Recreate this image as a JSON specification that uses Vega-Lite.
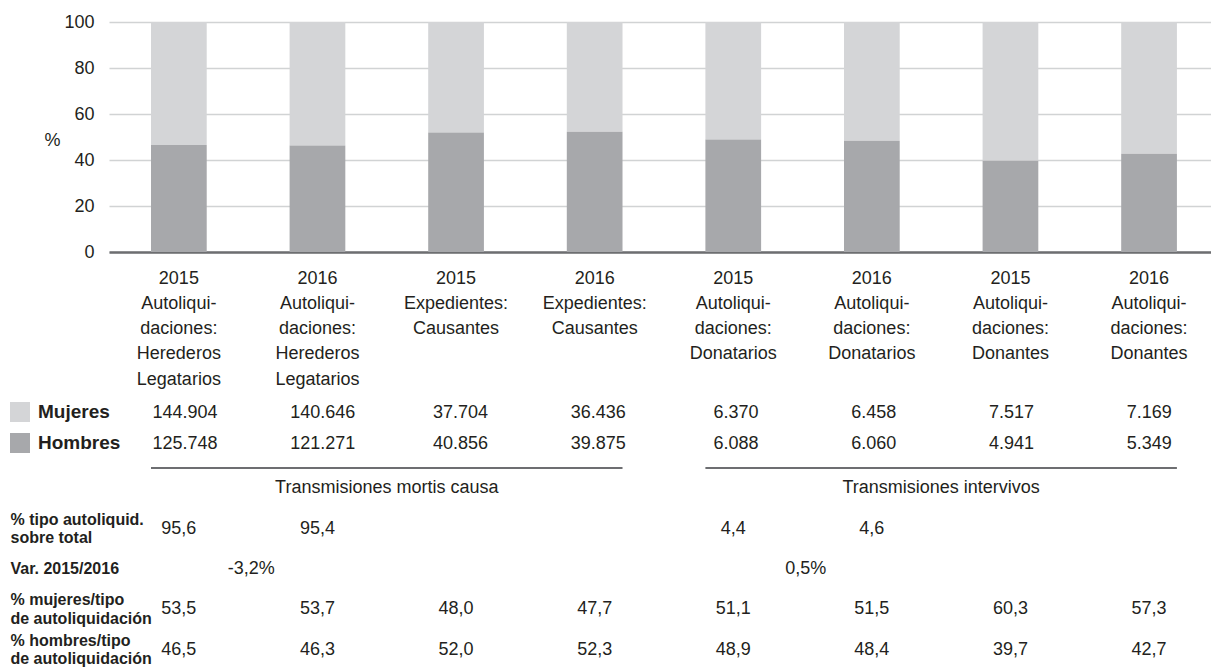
{
  "$schema": "https://vega.github.io/schema/vega-lite/v6.json",
  "padding": {"left": 10, "top": 13, "right": 0, "bottom": 0},
  "spacing": 8,
  "config": {
    "view": {"stroke": null},
    "font": "Liberation Sans",
    "locale": {"number": {"decimal": ",", "thousands": ".", "grouping": [3], "currency": ["", " €"], "minus": "-", "percent": "%"}},
    "axis": {"labelFont": "Liberation Sans", "titleFont": "Liberation Sans", "labelColor": "#231f20", "titleColor": "#231f20"},
    "legend": {"labelFont": "Liberation Sans"},
    "text": {"font": "Liberation Sans", "fontSize": 18, "color": "#231f20"}
  },
  "datasets": {
    "sexo": [
      {"cat": "2015|Autoliqui-|daciones:|Herederos|Legatarios", "sexo": "Mujeres", "n": 144904, "pct": 53.5},
      {"cat": "2015|Autoliqui-|daciones:|Herederos|Legatarios", "sexo": "Hombres", "n": 125748, "pct": 46.5},
      {"cat": "2016|Autoliqui-|daciones:|Herederos|Legatarios", "sexo": "Mujeres", "n": 140646, "pct": 53.7},
      {"cat": "2016|Autoliqui-|daciones:|Herederos|Legatarios", "sexo": "Hombres", "n": 121271, "pct": 46.3},
      {"cat": "2015|Expedientes:|Causantes", "sexo": "Mujeres", "n": 37704, "pct": 48.0},
      {"cat": "2015|Expedientes:|Causantes", "sexo": "Hombres", "n": 40856, "pct": 52.0},
      {"cat": "2016|Expedientes:|Causantes", "sexo": "Mujeres", "n": 36436, "pct": 47.7},
      {"cat": "2016|Expedientes:|Causantes", "sexo": "Hombres", "n": 39875, "pct": 52.3},
      {"cat": "2015|Autoliqui-|daciones:|Donatarios", "sexo": "Mujeres", "n": 6370, "pct": 51.1},
      {"cat": "2015|Autoliqui-|daciones:|Donatarios", "sexo": "Hombres", "n": 6088, "pct": 48.9},
      {"cat": "2016|Autoliqui-|daciones:|Donatarios", "sexo": "Mujeres", "n": 6458, "pct": 51.6},
      {"cat": "2016|Autoliqui-|daciones:|Donatarios", "sexo": "Hombres", "n": 6060, "pct": 48.4},
      {"cat": "2015|Autoliqui-|daciones:|Donantes", "sexo": "Mujeres", "n": 7517, "pct": 60.3},
      {"cat": "2015|Autoliqui-|daciones:|Donantes", "sexo": "Hombres", "n": 4941, "pct": 39.7},
      {"cat": "2016|Autoliqui-|daciones:|Donantes", "sexo": "Mujeres", "n": 7169, "pct": 57.3},
      {"cat": "2016|Autoliqui-|daciones:|Donantes", "sexo": "Hombres", "n": 5349, "pct": 42.7}
    ],
    "tabla": [
      {"cat": "2015|Autoliqui-|daciones:|Herederos|Legatarios", "fila": "% tipo autoliquid.|sobre total", "v": 95.6},
      {"cat": "2016|Autoliqui-|daciones:|Herederos|Legatarios", "fila": "% tipo autoliquid.|sobre total", "v": 95.4},
      {"cat": "2015|Autoliqui-|daciones:|Donatarios", "fila": "% tipo autoliquid.|sobre total", "v": 4.4},
      {"cat": "2016|Autoliqui-|daciones:|Donatarios", "fila": "% tipo autoliquid.|sobre total", "v": 4.6},
      {"cat": "2015|Autoliqui-|daciones:|Herederos|Legatarios", "fila": "% mujeres/tipo|de autoliquidación", "v": 53.5},
      {"cat": "2016|Autoliqui-|daciones:|Herederos|Legatarios", "fila": "% mujeres/tipo|de autoliquidación", "v": 53.7},
      {"cat": "2015|Expedientes:|Causantes", "fila": "% mujeres/tipo|de autoliquidación", "v": 48.0},
      {"cat": "2016|Expedientes:|Causantes", "fila": "% mujeres/tipo|de autoliquidación", "v": 47.7},
      {"cat": "2015|Autoliqui-|daciones:|Donatarios", "fila": "% mujeres/tipo|de autoliquidación", "v": 51.1},
      {"cat": "2016|Autoliqui-|daciones:|Donatarios", "fila": "% mujeres/tipo|de autoliquidación", "v": 51.5},
      {"cat": "2015|Autoliqui-|daciones:|Donantes", "fila": "% mujeres/tipo|de autoliquidación", "v": 60.3},
      {"cat": "2016|Autoliqui-|daciones:|Donantes", "fila": "% mujeres/tipo|de autoliquidación", "v": 57.3},
      {"cat": "2015|Autoliqui-|daciones:|Herederos|Legatarios", "fila": "% hombres/tipo|de autoliquidación", "v": 46.5},
      {"cat": "2016|Autoliqui-|daciones:|Herederos|Legatarios", "fila": "% hombres/tipo|de autoliquidación", "v": 46.3},
      {"cat": "2015|Expedientes:|Causantes", "fila": "% hombres/tipo|de autoliquidación", "v": 52.0},
      {"cat": "2016|Expedientes:|Causantes", "fila": "% hombres/tipo|de autoliquidación", "v": 52.3},
      {"cat": "2015|Autoliqui-|daciones:|Donatarios", "fila": "% hombres/tipo|de autoliquidación", "v": 48.9},
      {"cat": "2016|Autoliqui-|daciones:|Donatarios", "fila": "% hombres/tipo|de autoliquidación", "v": 48.4},
      {"cat": "2015|Autoliqui-|daciones:|Donantes", "fila": "% hombres/tipo|de autoliquidación", "v": 39.7},
      {"cat": "2016|Autoliqui-|daciones:|Donantes", "fila": "% hombres/tipo|de autoliquidación", "v": 42.7}
    ],
    "var": [
      {"cat": "2015|Autoliqui-|daciones:|Herederos|Legatarios", "fila": "Var. 2015/2016", "v": -0.032},
      {"cat": "2015|Autoliqui-|daciones:|Donatarios", "fila": "Var. 2015/2016", "v": 0.005}
    ],
    "grupos": [
      {"desde": "2015|Autoliqui-|daciones:|Herederos|Legatarios", "hasta": "2016|Expedientes:|Causantes", "centro": "2016|Autoliqui-|daciones:|Herederos|Legatarios", "fila": "grupo", "nombre": "Transmisiones mortis causa"},
      {"desde": "2015|Autoliqui-|daciones:|Donatarios", "hasta": "2016|Autoliqui-|daciones:|Donantes", "centro": "2016|Autoliqui-|daciones:|Donatarios", "fila": "grupo", "nombre": "Transmisiones intervivos"}
    ]
  },
  "vconcat": [
    {
      "width": 1102,
      "height": 230,
      "data": {"name": "sexo"},
      "mark": {"type": "bar"},
      "encoding": {
        "x": {
          "field": "cat", "type": "nominal", "sort": null,
          "scale": {"domain": ["2015|Autoliqui-|daciones:|Herederos|Legatarios", "2016|Autoliqui-|daciones:|Herederos|Legatarios", "2015|Expedientes:|Causantes", "2016|Expedientes:|Causantes", "2015|Autoliqui-|daciones:|Donatarios", "2016|Autoliqui-|daciones:|Donatarios", "2015|Autoliqui-|daciones:|Donantes", "2016|Autoliqui-|daciones:|Donantes"], "paddingInner": 0.598, "paddingOuter": 0.2745, "align": 0.552},
          "axis": {"title": null, "labelAngle": 0, "ticks": false, "labelPadding": 17, "labelFontSize": 18, "labelLineHeight": 25.3, "labelExpr": "split(datum.value, '|')", "domainColor": "#6d6e71", "domainWidth": 2.5, "labelAlign": "center", "labelBaseline": "top"}
        },
        "y": {
          "field": "pct", "type": "quantitative", "stack": "zero",
          "scale": {"domain": [0, 100], "nice": false},
          "axis": {"title": "%", "titleAngle": 0, "titleAlign": "center", "titleBaseline": "middle", "titleX": -57, "titleY": 118, "titleFontSize": 18, "titleFontWeight": "normal", "values": [0, 20, 40, 60, 80, 100], "domain": false, "ticks": false, "labelPadding": 15, "labelFontSize": 18, "gridColor": "#d1d3d4", "gridWidth": 1.5}
        },
        "color": {
          "field": "sexo", "type": "nominal",
          "scale": {"domain": ["Mujeres", "Hombres"], "range": ["#d4d5d7", "#a7a8ab"]},
          "legend": {"title": null, "orient": "none", "legendX": -99, "legendY": 380, "symbolType": "square", "symbolSize": 400, "symbolStrokeWidth": 0, "labelFontSize": 19, "labelFontWeight": "bold", "labelColor": "#231f20", "labelOffset": 8, "rowPadding": 11, "padding": 0}
        },
        "order": {"field": "sexo", "sort": "ascending"}
      }
    },
    {
      "width": 1102,
      "height": 62,
      "data": {"name": "sexo"},
      "mark": {"type": "text", "baseline": "middle"},
      "encoding": {
        "x": {
          "field": "cat", "type": "nominal", "sort": null,
          "scale": {"domain": ["2015|Autoliqui-|daciones:|Herederos|Legatarios", "2016|Autoliqui-|daciones:|Herederos|Legatarios", "2015|Expedientes:|Causantes", "2016|Expedientes:|Causantes", "2015|Autoliqui-|daciones:|Donatarios", "2016|Autoliqui-|daciones:|Donatarios", "2015|Autoliqui-|daciones:|Donantes", "2016|Autoliqui-|daciones:|Donantes"], "paddingInner": 0.598, "paddingOuter": 0.2745, "align": 0.552},
          "axis": null
        },
        "y": {"field": "sexo", "type": "nominal", "scale": {"domain": ["Mujeres", "Hombres"], "paddingInner": 0, "paddingOuter": 0}, "axis": null},
        "text": {"field": "n", "type": "quantitative", "format": ",d"}
      }
    },
    {
      "width": 1102,
      "height": 202,
      "encoding": {
        "y": {"field": "fila", "type": "nominal",
          "scale": {"type": "band", "domain": ["grupo", "% tipo autoliquid.|sobre total", "Var. 2015/2016", "% mujeres/tipo|de autoliquidación", "% hombres/tipo|de autoliquidación"], "paddingInner": 0, "paddingOuter": 0},
          "axis": {"title": null, "domain": false, "ticks": false, "grid": false, "labelAlign": "left", "labelBaseline": "middle", "labelPadding": 99, "labelFontSize": 16, "labelFontWeight": "bold", "labelLineHeight": 18.5, "labelOffset": {"condition": {"test": "indexof(datum.value, '|') >= 0", "value": -9}, "value": 0}, "labelExpr": "datum.value == 'grupo' ? '' : split(datum.value, '|')"}
        }
      },
      "layer": [
        {
          "data": {"name": "grupos"},
          "mark": {"type": "rule", "color": "#6d6e71", "strokeWidth": 2},
          "encoding": {
            "x": {"field": "desde", "type": "nominal", "bandPosition": 0,
              "scale": {"domain": ["2015|Autoliqui-|daciones:|Herederos|Legatarios", "2016|Autoliqui-|daciones:|Herederos|Legatarios", "2015|Expedientes:|Causantes", "2016|Expedientes:|Causantes", "2015|Autoliqui-|daciones:|Donatarios", "2016|Autoliqui-|daciones:|Donatarios", "2015|Autoliqui-|daciones:|Donantes", "2016|Autoliqui-|daciones:|Donantes"], "paddingInner": 0.598, "paddingOuter": 0.2745, "align": 0.552},
              "axis": null},
            "x2": {"field": "hasta", "bandPosition": 1},
            "y": {"field": "fila", "type": "nominal", "bandPosition": 0}
          }
        },
        {
          "data": {"name": "grupos"},
          "mark": {"type": "text", "baseline": "middle", "fontSize": 18},
          "encoding": {
            "x": {"field": "centro", "type": "nominal", "bandPosition": 1.744},
            "text": {"field": "nombre"}
          }
        },
        {
          "data": {"name": "tabla"},
          "mark": {"type": "text", "baseline": "middle", "fontSize": 18},
          "encoding": {
            "x": {"field": "cat", "type": "nominal"},
            "text": {"field": "v", "type": "quantitative", "format": ".1f"}
          }
        },
        {
          "data": {"name": "var"},
          "mark": {"type": "text", "baseline": "middle", "fontSize": 18},
          "encoding": {
            "x": {"field": "cat", "type": "nominal", "bandPosition": 1.8},
            "text": {"field": "v", "type": "quantitative", "format": ".1%"}
          }
        }
      ]
    }
  ]
}
